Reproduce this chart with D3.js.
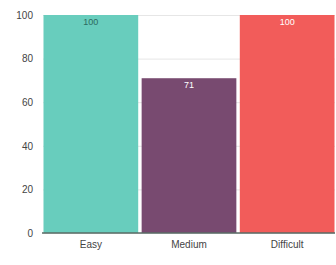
<!DOCTYPE html>
<html>
<head>
<meta charset="utf-8">
<script src="https://cdn.jsdelivr.net/npm/d3@7"></script>
<style>
  body { margin: 0; background: #fff; }
  svg { display: block; font-family: "Liberation Sans", Arial, sans-serif; }
  .grid line { stroke: #e6e6e6; }
  .grid .domain { display: none; }
  .y.axis .domain, .y.axis line { display: none; }
  .y.axis text, .x.axis text { fill: #444; font-size: 10px; }
  .x.axis .domain, .x.axis line { display: none; }
</style>
</head>
<body>
<div id="chart"></div>
<script>
const categories = ['Easy', 'Medium', 'Difficult'];
const values = [100, 71, 100];
const colors = ['#68cdbd', '#784a70', '#f25c5a'];
const labelColors = ['#2d6b60', '#ffffff', '#ffffff'];
const yTicks = [0, 20, 40, 60, 80, 100];

const width = 336, height = 265;
const margin = {top: 15, right: 1, bottom: 32, left: 43};
const innerW = width - margin.left - margin.right;
const innerH = height - margin.top - margin.bottom;

const svg = d3.select('#chart')
  .append('svg')
    .attr('width', width)
    .attr('height', height);

const canvas = svg.append('g')
  .attr('transform', `translate(${margin.left},${margin.top})`);

const y = d3.scaleLinear().domain([0, 100]).range([innerH, 0]);
const x = d3.scaleBand().domain(categories).range([0, innerW]).paddingInner(0.035).paddingOuter(0.005);

// gridlines
canvas.append('g')
  .attr('class', 'grid')
  .call(d3.axisLeft(y).tickValues(yTicks).tickSize(-innerW).tickFormat(''));

// y axis labels
canvas.append('g')
  .attr('class', 'y axis')
  .attr('transform', 'translate(-8,0)')
  .call(d3.axisLeft(y).tickValues(yTicks).tickSize(0).tickPadding(2));

// bars
canvas.selectAll('rect.bar')
  .data(values)
  .join('rect')
    .attr('class', 'bar')
    .attr('x', (d, i) => x(categories[i]))
    .attr('y', d => y(d))
    .attr('width', x.bandwidth())
    .attr('height', d => innerH - y(d))
    .attr('fill', (d, i) => colors[i]);

// value labels
canvas.selectAll('text.val')
  .data(values)
  .join('text')
    .attr('class', 'val')
    .attr('x', (d, i) => x(categories[i]) + x.bandwidth() / 2)
    .attr('y', d => y(d) + 10)
    .attr('text-anchor', 'middle')
    .attr('font-size', 9)
    .attr('fill', (d, i) => labelColors[i])
    .text(d => d);

// baseline
canvas.append('line')
  .attr('x1', -1).attr('x2', innerW)
  .attr('y1', innerH).attr('y2', innerH)
  .attr('stroke', '#5a6b66')
  .attr('stroke-width', 1.5);

// x axis
canvas.append('g')
  .attr('class', 'x axis')
  .attr('transform', `translate(0,${innerH})`)
  .call(d3.axisBottom(x).tickSize(0).tickPadding(8));
</script>
</body>
</html>
